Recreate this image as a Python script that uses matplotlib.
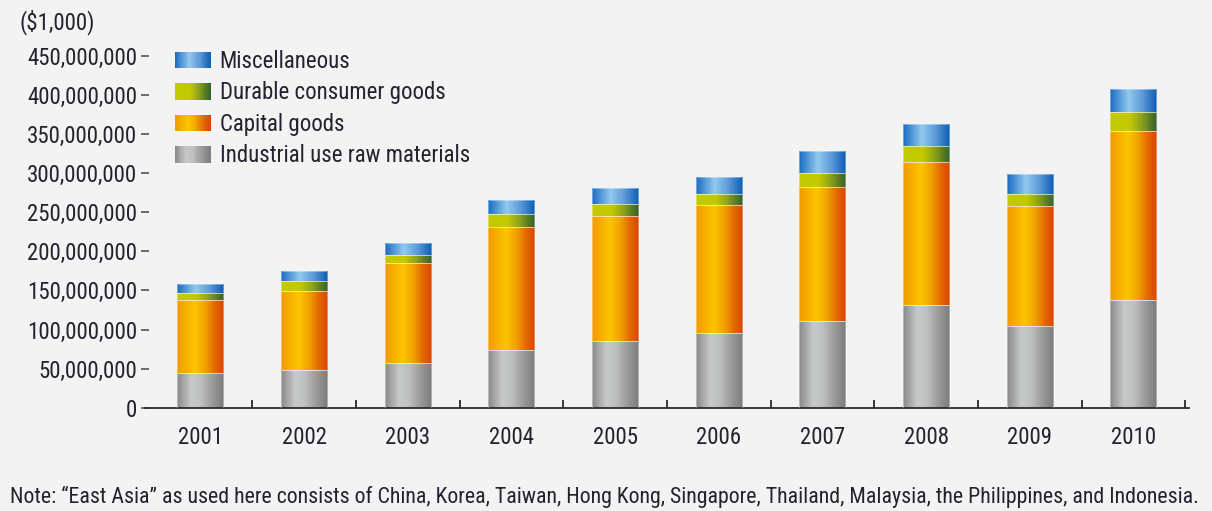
import matplotlib
matplotlib.use("Agg")
import matplotlib.pyplot as plt
import numpy as np
from matplotlib.colors import LinearSegmentedColormap
from matplotlib.legend_handler import HandlerBase
from matplotlib.patches import Rectangle
from matplotlib.ticker import FuncFormatter, MultipleLocator

# ---- data (unit: $1,000) ----
years = ["2001", "2002", "2003", "2004", "2005", "2006", "2007", "2008", "2009", "2010"]
raw_materials = [44.8e6, 48.2e6, 57.4e6, 74.2e6, 84.9e6, 95.5e6, 111.3e6, 131.3e6, 104.9e6, 137.7e6]
capital_goods = [92.9e6, 101.4e6, 127.6e6, 157.3e6, 160.6e6, 163.7e6, 171.3e6, 183.3e6, 153.0e6, 216.1e6]
durable_goods = [9.0e6, 12.4e6, 10.0e6, 15.8e6, 15.4e6, 14.1e6, 17.1e6, 20.4e6, 15.4e6, 24.3e6]
miscellaneous = [11.1e6, 12.4e6, 15.6e6, 18.3e6, 20.1e6, 21.7e6, 28.2e6, 27.8e6, 25.2e6, 29.4e6]
series_labels = ["Industrial use raw materials", "Capital goods",
                 "Durable consumer goods", "Miscellaneous"]
unit_label = "($1,000)"
note = ("Note: \u201cEast Asia\u201d as used here consists of China, Korea, Taiwan, Hong Kong, "
        "Singapore, Thailand, Malaysia, the Philippines, and Indonesia.")

FONT = ["Roboto Condensed", "DejaVu Sans"]
plt.rcParams["font.family"] = FONT
TXT = "#23232f"
BG = "#f3f3f3"
FS = 16.5

cmaps = [
    LinearSegmentedColormap.from_list("gray", [(0, "#898989"), (0.3, "#c7c8c8"), (0.5, "#bfc0c0"),
                                               (0.75, "#9b9b9b"), (1, "#7b7b7b")]),
    LinearSegmentedColormap.from_list("orange", [(0, "#f29a00"), (0.38, "#fcc500"), (0.6, "#f0a200"),
                                                 (0.8, "#e46a00"), (1, "#d94400")]),
    LinearSegmentedColormap.from_list("green", [(0, "#c2ca00"), (0.42, "#c2c900"), (0.65, "#91a61a"),
                                                (1, "#33602d")]),
    LinearSegmentedColormap.from_list("blue", [(0, "#1a6cc0"), (0.4, "#92c9ef"), (0.7, "#5b98d6"),
                                               (1, "#0a5eb4")]),
]

fig = plt.figure(figsize=(12.12, 5.11), dpi=100, facecolor=BG)
ax = fig.add_axes([0.12, 0.2022, 0.8609, 0.6882])
ax.set_facecolor(BG)

x = np.arange(len(years))
width = 0.445
grad = np.linspace(0, 1, 256).reshape(1, -1)
bottom = np.zeros(len(years))
series = [raw_materials, capital_goods, durable_goods, miscellaneous]
for vals, cmap in zip(series, cmaps):
    vals = np.array(vals)
    bars = ax.bar(x, vals, width, bottom=bottom, color="none", edgecolor="none", zorder=2)
    for b in bars:
        x0, y0 = b.get_x(), b.get_y()
        w, h = b.get_width(), b.get_height()
        im = ax.imshow(grad, cmap=cmap, extent=[x0, x0 + w, y0, y0 + h], aspect="auto",
                       interpolation="bilinear", zorder=2)
        im.set_clip_path(b)
        ax.add_patch(Rectangle((x0, y0), w, h, facecolor="none", edgecolor="white",
                               linewidth=0.6, alpha=0.45, zorder=3))
    bottom = bottom + vals

ax.set_xlim(-0.53, 9.535)
ax.set_ylim(0, 450e6)
ax.set_aspect("auto")

for s in ["top", "right", "left"]:
    ax.spines[s].set_visible(False)
ax.spines["bottom"].set_color("#2a2a2a")
ax.spines["bottom"].set_linewidth(1.3)

ax.yaxis.set_major_locator(MultipleLocator(50e6))
ax.yaxis.set_major_formatter(FuncFormatter(lambda v, p: f"{int(round(v)):,}"))
ax.tick_params(axis="y", direction="inout", length=6, width=1.2, colors="#555555",
               labelcolor=TXT, labelsize=FS, pad=3)

ax.set_xticks(x + 0.5)
ax.set_xticklabels([])
ax.tick_params(axis="x", which="major", direction="in", length=6, width=1.3, colors="#2a2a2a")
ax.set_xticks(x, minor=True)
ax.set_xticklabels(years, minor=True)
ax.tick_params(axis="x", which="minor", length=0, labelsize=FS, labelcolor=TXT, pad=13)


class GradHandler(HandlerBase):
    def __init__(self, cmap):
        super().__init__()
        self.cmap = cmap

    def create_artists(self, legend, orig_handle, xdescent, ydescent, width, height,
                       fontsize, trans):
        n = 40
        arts = []
        for i in range(n):
            r = Rectangle((-xdescent + width * i / n, -ydescent), width / n * 1.05, height,
                          facecolor=self.cmap((i + 0.5) / n), edgecolor="none",
                          transform=trans)
            arts.append(r)
        return arts


handles = [Rectangle((0, 0), 1, 1) for _ in series_labels]
order = [3, 2, 1, 0]
leg = ax.legend([handles[i] for i in order], [series_labels[i] for i in order],
                handler_map={handles[i]: GradHandler(cmaps[i]) for i in range(4)},
                loc="upper left", bbox_to_anchor=(175 / 1212, 1 - 50 / 511),
                bbox_transform=fig.transFigure, frameon=False, fontsize=FS,
                handlelength=1.55, handleheight=0.72, handletextpad=0.4,
                labelspacing=0.37, borderpad=0, borderaxespad=0)
for t in leg.get_texts():
    t.set_color(TXT)

fig.text(20 / 1212, 1 - 22 / 511, unit_label, fontsize=FS, color=TXT, va="center", ha="left")
nt = fig.text(10 / 1212, 1 - 497 / 511, note, fontsize=15, color=TXT, va="center", ha="left")

# fit the note to the width it occupies in the reference
r = fig.canvas.get_renderer()
wpx = nt.get_window_extent(r).width
nt.set_fontsize(15 * 1195 / wpx)

fig.savefig("out.png", dpi=100, facecolor=BG)
